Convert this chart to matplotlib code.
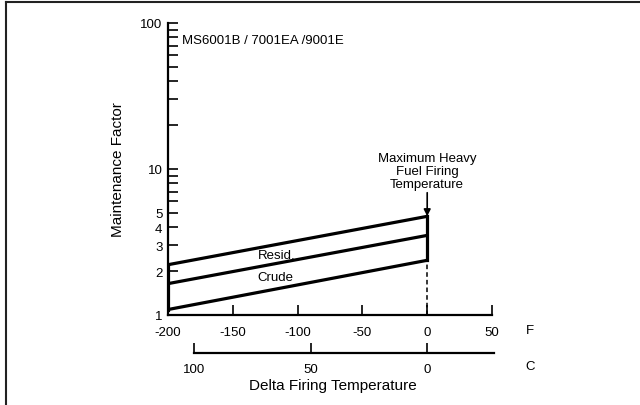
import matplotlib
matplotlib.use('Agg')
from matplotlib import pyplot as plt
from matplotlib.lines import Line2D
from matplotlib.ticker import FixedLocator, NullFormatter

plt.rcParams['font.family'] = ['Liberation Sans', 'DejaVu Sans']

# Data (delta firing temperature in F, maintenance factor)
temp_f = [-200, 0]
upper_line = [2.21, 4.74]
middle_line = [1.64, 3.51]
lower_line = [1.09, 2.37]

f_ticks = [-200, -150, -100, -50, 0, 50]
c_ticks = [100, 50, 0]
y_major = [1, 2, 3, 4, 5, 10, 100]
y_minor = [6, 7, 8, 9, 20, 30, 40, 50, 60, 70, 80, 90]

W, H = 640, 406


def px(x, y):
    # pixel position -> figure fraction
    return x / W, 1 - y / H


fig = plt.figure(figsize=(6.4, 4.06), dpi=100)
ax = fig.add_axes([168 / W, 1 - 316 / H, 324 / W, 292 / H])

# the three band lines
for vals in (upper_line, middle_line, lower_line):
    ax.plot(temp_f, vals, color='black', lw=2.3, solid_capstyle='butt')

# closing verticals
ax.plot([temp_f[0], temp_f[0]], [lower_line[0], upper_line[0]], color='black', lw=2.3)
ax.plot([temp_f[1], temp_f[1]], [lower_line[1], upper_line[1]], color='black', lw=2.3)
ax.plot([temp_f[1], temp_f[1]], [1, lower_line[1]], color='black', lw=1.1, ls=(0, (3, 2)))

ax.set_yscale('log')
ax.set_xlim(-200, 50)
ax.set_ylim(1, 100)

ax.yaxis.set_major_locator(FixedLocator(y_major))
ax.yaxis.set_minor_locator(FixedLocator(y_minor))
ax.yaxis.set_minor_formatter(NullFormatter())
ax.set_yticklabels([str(v) for v in y_major])
ax.set_xticks(f_ticks)
ax.set_xticklabels([str(v) for v in f_ticks])

for s in ('top', 'right'):
    ax.spines[s].set_visible(False)
for s in ('left', 'bottom'):
    ax.spines[s].set_linewidth(1.6)

ax.tick_params(axis='both', which='both', direction='in', length=7, width=1.2,
               labelsize=9.5)
ax.tick_params(axis='y', which='both', pad=4)
ax.tick_params(axis='x', pad=8)

ax.text(0.043, 0.942, 'MS6001B / 7001EA /9001E', transform=ax.transAxes,
        fontsize=9.5, va='center', ha='left')
ax.text(-131, 2.59, 'Resid.', fontsize=9.5, va='center', ha='left')
ax.text(-131, 1.83, 'Crude', fontsize=9.5, va='center', ha='left')

ax.annotate('Maximum Heavy\nFuel Firing\nTemperature', xy=(0, upper_line[1]),
            xytext=(0, 19), textcoords='offset points', ha='center', va='bottom',
            fontsize=9.5, linespacing=1.1,
            arrowprops=dict(arrowstyle='-|>', color='black', lw=1.2,
                            mutation_scale=10, shrinkA=0, shrinkB=0))

# Celsius scale below
ax2 = fig.add_axes([168 / W, 1 - 354 / H, 324 / W, 0.001])
ax2.set_xlim(200 * 5 / 9, -50 * 5 / 9)
ax2.set_yticks([])
for s in ('top', 'right', 'left'):
    ax2.spines[s].set_visible(False)
ax2.spines['bottom'].set_linewidth(1.6)
ax2.spines['bottom'].set_bounds(100, -50 * 5 / 9 - 1)
ax2.patch.set_visible(False)
ax2.set_xticks(c_ticks)
ax2.set_xticklabels([str(v) for v in c_ticks])
ax2.tick_params(axis='x', direction='in', length=7, width=1.2, labelsize=9.5, pad=7)

fig.text(*px(530, 331), 'F', fontsize=9.5, ha='center', va='center')
fig.text(*px(530, 367), 'C', fontsize=9.5, ha='center', va='center')
fig.text(*px(333, 386), 'Delta Firing Temperature', fontsize=11, ha='center', va='center')
fig.text(*px(118, 170), 'Maintenance Factor', fontsize=11, ha='center', va='center',
         rotation=90)

# frame lines at top and left of the picture
fig.add_artist(Line2D([6 / W, 1], [1 - 3 / H, 1 - 3 / H], color='#222222', lw=1.5))
fig.add_artist(Line2D([6 / W, 6 / W], [0, 1 - 3 / H], color='#222222', lw=1.5))

fig.savefig('out.png', dpi=100)
plt.close()
